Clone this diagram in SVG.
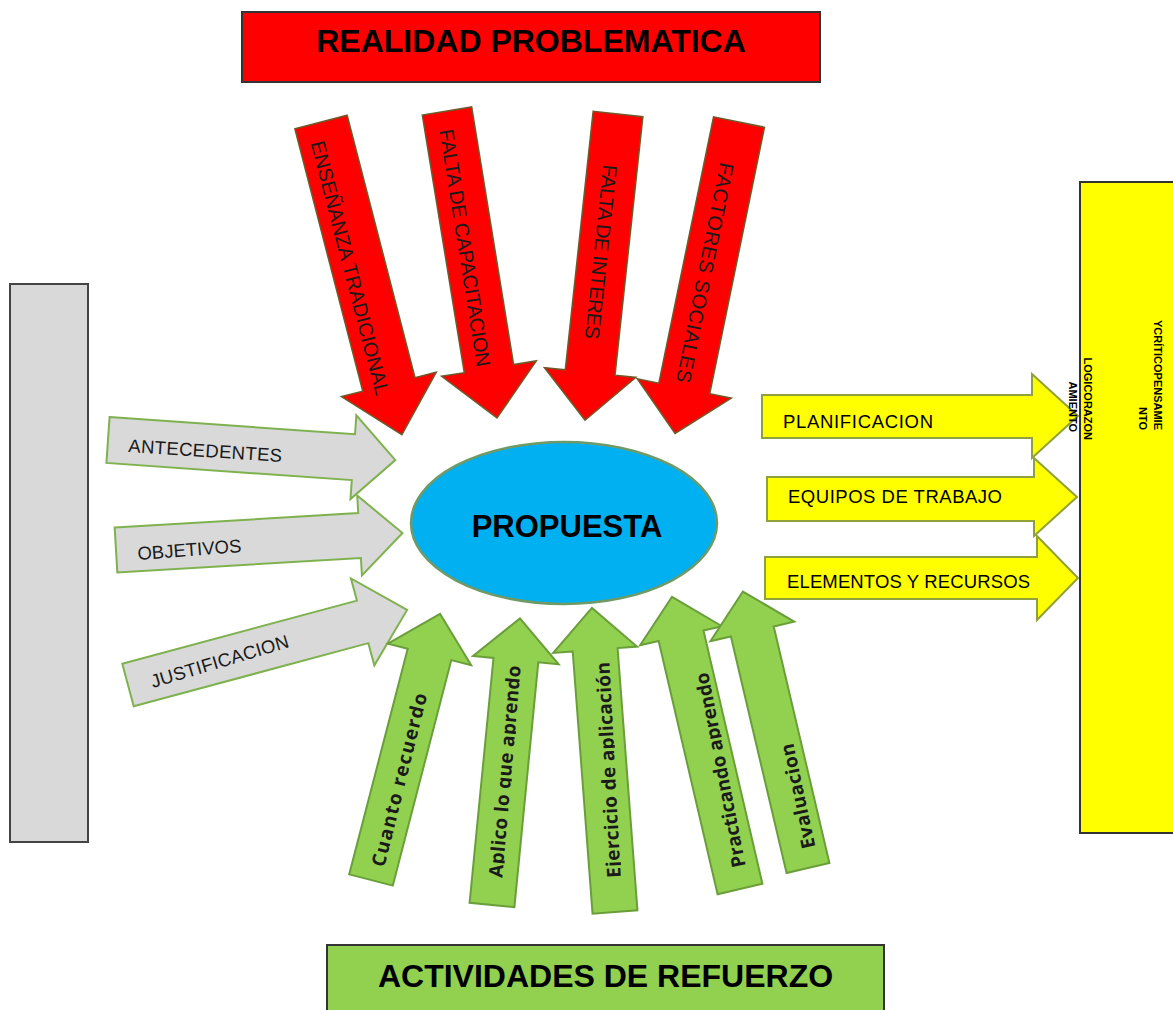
<svg xmlns="http://www.w3.org/2000/svg" width="1173" height="1010" viewBox="0 0 1173 1010">
<style>
.box{stroke:#333;stroke-width:2}
.red{fill:#ff0000;stroke:#6e5a2a;stroke-width:1.5}
.gray{fill:#d9d9d9;stroke:#7fb24f;stroke-width:2}
.yel{fill:#ffff00;stroke:#8fa03c;stroke-width:2}
.grn{fill:#92d050;stroke:#6a9e3a;stroke-width:2}
.title{font-family:"Liberation Sans",Arial,sans-serif;font-weight:bold;font-size:32px;fill:#000;text-anchor:middle}
.rt{font-family:"Liberation Sans",Arial,sans-serif;font-size:20px;fill:#1a1a1a;text-anchor:middle}
.gt{font-family:"Liberation Sans",Arial,sans-serif;font-size:18.5px;fill:#1a1a1a}
.yt{font-family:"Liberation Sans",Arial,sans-serif;font-size:18.5px;fill:#000}
.vt{font-family:"Open Sans","Liberation Sans",sans-serif;font-weight:700;font-size:19px;fill:#1a1a1a;text-anchor:middle}
.st{font-family:"Liberation Sans",Arial,sans-serif;font-weight:bold;font-size:11px;fill:#000;text-anchor:end}
</style>
<defs>
<clipPath id="cut" clipPathUnits="userSpaceOnUse"><rect x="-200" y="-40" width="400" height="47"/></clipPath>
</defs>
<rect width="1173" height="1010" fill="#fff"/>

<g id="realidad">
<rect class="box" x="242" y="12" width="578" height="70" fill="#ff0000"/>
<text class="title" x="531" y="52">REALIDAD PROBLEMATICA</text>
</g>

<g id="actividades">
<rect class="box" x="327" y="945" width="557" height="75" fill="#92d050"/>
<text class="title" x="605.5" y="987">ACTIVIDADES DE REFUERZO</text>
</g>

<g id="caja-izquierda">
<rect x="10" y="284" width="78" height="558" fill="#d9d9d9" stroke="#444" stroke-width="2"/>
</g>

<g id="antecedentes">
<polygon class="gray" transform="translate(108,440) rotate(4)" points="0,-23 246,-23 246,-42 288,0 246,42 246,23 0,23"/>
<text class="gt" transform="translate(128,452) rotate(3.7)" textLength="154">ANTECEDENTES</text>
</g>
<g id="objetivos">
<polygon class="gray" transform="translate(116,550) rotate(-3.4)" points="0,-22.5 244,-22.5 244,-40 287,0 244,40 244,22.5 0,22.5"/>
<text class="gt" transform="translate(138,560) rotate(-4.4)" textLength="104">OBJETIVOS</text>
</g>
<g id="justificacion">
<polygon class="gray" transform="translate(128,685) rotate(-15.05)" points="0,-22 243,-22 243,-45 289,0 243,45 243,22 0,22"/>
<text class="gt" transform="translate(153,688) rotate(-16.7)" textLength="143">JUSTIFICACION</text>
</g>

<g id="ensenanza">
<polygon class="red" transform="translate(321,122) rotate(75.5)" points="0,-27 271,-27 271,-49 323,0 271,49 271,27 0,27"/>
<text class="rt" transform="translate(350,268) rotate(75.5)" y="7" textLength="262">ENSEÑANZA TRADICIONAL</text>
</g>
<g id="capacitacion">
<polygon class="red" transform="translate(447,111) rotate(80.75)" points="0,-25 261,-25 261,-48 311,0 261,48 261,25 0,25"/>
<text class="rt" transform="translate(465,248) rotate(81)" y="7" textLength="240">FALTA DE CAPACITACION</text>
</g>
<g id="interes">
<polygon class="red" transform="translate(618,114) rotate(96.15)" points="0,-25 260,-25 260,-46 308,0 260,46 260,25 0,25"/>
<text class="rt" transform="translate(601,252) rotate(96)" y="7" textLength="175">FALTA DE INTERES</text>
</g>
<g id="sociales">
<polygon class="red" transform="translate(739,122) rotate(101.6)" points="0,-26 272,-26 272,-48 318,0 272,48 272,26 0,26"/>
<text class="rt" transform="translate(705,273) rotate(101.4)" y="7" textLength="224">FACTORES SOCIALES</text>
</g>

<g id="planificacion">
<polygon class="yel" points="762,395 1032,395 1032,374 1078,416 1032,458 1032,438 762,438"/>
<text class="yt" x="783" y="428" textLength="150">PLANIFICACION</text>
</g>
<g id="equipos">
<polygon class="yel" points="767,477 1034,477 1034,458 1077,497 1034,536 1034,521 767,521"/>
<text class="yt" x="788" y="503" textLength="214">EQUIPOS DE TRABAJO</text>
</g>
<g id="elementos">
<polygon class="yel" points="765,557 1037,557 1037,536 1078,578 1037,620 1037,599 765,599"/>
<text class="yt" x="787" y="588" textLength="243">ELEMENTOS Y RECURSOS</text>
</g>

<g id="caja-derecha">
<rect x="1080" y="182" width="100" height="651" fill="#ffff00" stroke="#333" stroke-width="2"/>
<g transform="translate(1088,440) rotate(90)"><text class="st" x="0" y="4">LOGICORAZON</text></g>
<g transform="translate(1073,432) rotate(90)"><text class="st" x="0" y="4">AMIENTO</text></g>
<g transform="translate(1158,430) rotate(90)"><text class="st" x="0" y="4">YCRÍTICOPENSAMIE</text></g>
<g transform="translate(1143,430) rotate(90)"><text class="st" x="0" y="4">NTO</text></g>
</g>

<g id="propuesta">
<ellipse cx="564" cy="523" rx="153" ry="81" fill="#00b0f0" stroke="#6f9a66" stroke-width="2.5"/>
<text class="title" x="567" y="537" style="font-size:31px">PROPUESTA</text>
</g>

<g id="cuanto">
<polygon class="grn" transform="translate(371,880) rotate(-75.46)" points="0,-22.5 233,-22.5 233,-43 275,0 233,43 233,22.5 0,22.5"/>
<g transform="translate(400,780) rotate(-76)"><text class="vt" x="0" y="6" clip-path="url(#cut)" textLength="178">Cuanto recuerdo</text></g>
</g>
<g id="aplico">
<polygon class="grn" transform="translate(492,905) rotate(-84.43)" points="0,-22.5 246,-22.5 246,-43 288,0 246,43 246,22.5 0,22.5"/>
<g transform="translate(505.5,771.5) rotate(-85)"><text class="vt" x="0" y="6" clip-path="url(#cut)" textLength="213">Aplico lo que aprendo</text></g>
</g>
<g id="ejercicio">
<polygon class="grn" transform="translate(615,912) rotate(-94.33)" points="0,-22.5 263,-22.5 263,-42 305,0 263,42 263,22.5 0,22.5"/>
<g transform="translate(609,770) rotate(-93)"><text class="vt" x="0" y="6" clip-path="url(#cut)" textLength="216">Ejercicio de aplicación</text></g>
</g>
<g id="practicando">
<polygon class="grn" transform="translate(740,889) rotate(-103.1)" points="0,-23 260,-23 260,-42 300,0 260,42 260,23 0,23"/>
<g transform="translate(721,770) rotate(-101)"><text class="vt" x="0" y="6" clip-path="url(#cut)" textLength="198">Practicando aprendo</text></g>
</g>
<g id="evaluacion">
<polygon class="grn" transform="translate(808,868) rotate(-103.25)" points="0,-22 243,-22 243,-43 284,0 243,43 243,22 0,22"/>
<g transform="translate(798.5,796) rotate(-102)"><text class="vt" x="0" y="6" clip-path="url(#cut)" textLength="107">Evaluacion</text></g>
</g>

<g id="connectors"></g>
</svg>
